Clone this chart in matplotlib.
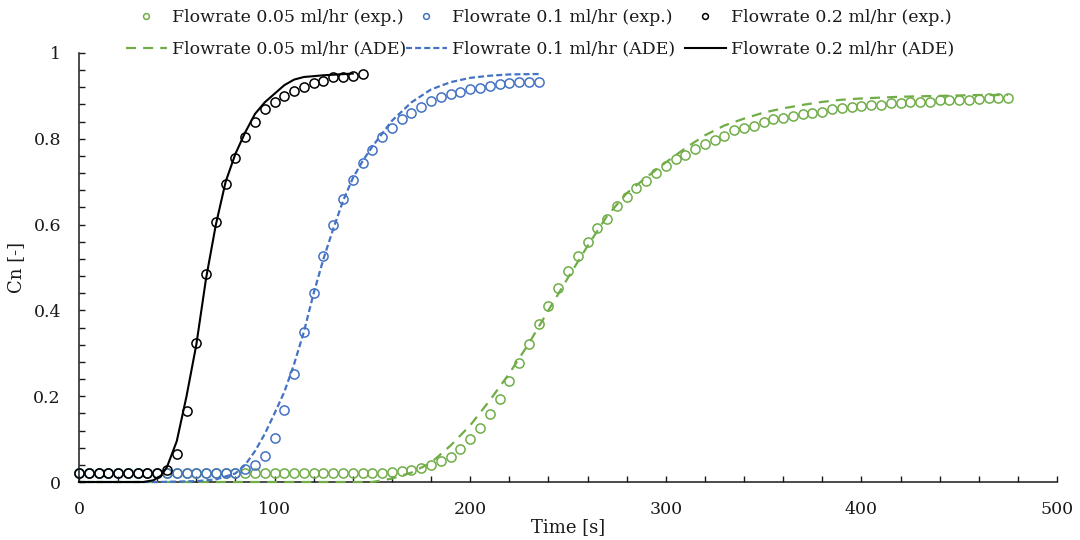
import matplotlib
matplotlib.use("Agg")
import matplotlib.pyplot as plt
from matplotlib.lines import Line2D
from matplotlib.ticker import MultipleLocator, FuncFormatter

plt.rcParams["font.family"] = ["DejaVu Serif"]

# experimental breakthrough data, sampled every 5 s
t_low = list(range(0, 480, 5))
cn_low = [0.022] * 32 + [
    0.024, 0.026, 0.028, 0.033, 0.040, 0.049, 0.059, 0.077, 0.100, 0.125,
    0.158, 0.193, 0.235, 0.277, 0.322, 0.368, 0.410, 0.453, 0.491, 0.527,
    0.560, 0.591, 0.612, 0.644, 0.665, 0.685, 0.702, 0.721, 0.737, 0.752,
    0.762, 0.776, 0.788, 0.797, 0.807, 0.821, 0.824, 0.830, 0.840, 0.845,
    0.849, 0.852, 0.857, 0.859, 0.862, 0.869, 0.871, 0.873, 0.877, 0.879,
    0.879, 0.883, 0.884, 0.886, 0.886, 0.886, 0.890, 0.890, 0.890, 0.890,
    0.892, 0.894, 0.894, 0.894,
]

t_mid = list(range(0, 240, 5))
cn_mid = [0.022] * 17 + [
    0.031, 0.040, 0.061, 0.103, 0.168, 0.251, 0.349, 0.441, 0.527, 0.598,
    0.659, 0.705, 0.743, 0.775, 0.803, 0.826, 0.845, 0.861, 0.875, 0.887,
    0.897, 0.904, 0.910, 0.915, 0.919, 0.923, 0.927, 0.929, 0.932, 0.933,
    0.933,
]

t_high = list(range(0, 150, 5))
cn_high = [0.022] * 9 + [
    0.028, 0.065, 0.166, 0.323, 0.484, 0.605, 0.695, 0.756, 0.803, 0.838,
    0.869, 0.885, 0.900, 0.911, 0.920, 0.929, 0.935, 0.943, 0.945, 0.946,
    0.950,
]

# ADE model curves
ade_t_low = [0, 150, 160, 170, 180, 190, 200, 210, 220, 230, 240, 250, 260, 270,
             280, 290, 300, 310, 320, 330, 340, 350, 360, 370, 380, 390, 400,
             420, 440, 460, 475]
ade_cn_low = [0, 0, 0.008, 0.022, 0.045, 0.085, 0.132, 0.19, 0.253, 0.323, 0.4,
              0.476, 0.55, 0.62, 0.673, 0.71, 0.745, 0.778, 0.808, 0.831, 0.847,
              0.861, 0.871, 0.879, 0.886, 0.891, 0.894, 0.898, 0.9, 0.902, 0.902]

ade_t_mid = [0, 40, 60, 70, 80, 85, 90, 95, 100, 105, 110, 115, 120, 125, 130,
             135, 140, 145, 150, 160, 170, 180, 190, 200, 210, 220, 235]
ade_cn_mid = [0, 0, 0.002, 0.006, 0.02, 0.04, 0.072, 0.112, 0.16, 0.21, 0.275,
              0.35, 0.44, 0.52, 0.59, 0.655, 0.708, 0.748, 0.782, 0.842, 0.885,
              0.915, 0.932, 0.942, 0.947, 0.95, 0.951]

ade_t_high = [0, 33, 38, 42, 45, 50, 55, 60, 65, 70, 75, 80, 85, 90, 95, 100,
              105, 110, 115, 125, 140]
ade_cn_high = [0, 0, 0.004, 0.015, 0.035, 0.095, 0.2, 0.32, 0.475, 0.6, 0.7,
               0.765, 0.815, 0.858, 0.885, 0.905, 0.925, 0.938, 0.944, 0.948,
               0.952]

labels_exp = ["Flowrate 0.05 ml/hr (exp.)", "Flowrate 0.1 ml/hr (exp.)",
              "Flowrate 0.2 ml/hr (exp.)"]
labels_ade = ["Flowrate 0.05 ml/hr (ADE)", "Flowrate 0.1 ml/hr (ADE)",
              "Flowrate 0.2 ml/hr (ADE)"]

green = "#70AD47"
blue = "#4472C4"
black = "#000000"
colors = [green, blue, black]
dash_styles = [(0, (4.5, 3.2)), (0, (2.7, 1.4)), "-"]

fig = plt.figure(figsize=(10.8, 5.4), dpi=100)
ax = fig.add_axes([0.0731, 0.1074, 0.9056, 0.7945])

exp_sets = [(t_low, cn_low), (t_mid, cn_mid), (t_high, cn_high)]
ade_sets = [(ade_t_low, ade_cn_low), (ade_t_mid, ade_cn_mid), (ade_t_high, ade_cn_high)]

for (t, c), col in zip(exp_sets, colors):
    ax.plot(t, c, linestyle="none", marker="o", markersize=6.6,
            markerfacecolor="none", markeredgecolor=col, markeredgewidth=1.1,
            clip_on=False, zorder=3)

for (t, c), col, ls in zip(ade_sets, colors, dash_styles):
    lw = 1.5 if ls == "-" else 1.6
    ax.plot(t, c, color=col, linestyle=ls, linewidth=lw, clip_on=False, zorder=4)

ax.set_xlim(0, 500)
ax.set_ylim(0, 1)
ax.xaxis.set_major_locator(MultipleLocator(100))
ax.xaxis.set_minor_locator(MultipleLocator(20))
ax.yaxis.set_major_locator(MultipleLocator(0.2))
ax.yaxis.set_minor_locator(MultipleLocator(0.04))
ax.yaxis.set_major_formatter(FuncFormatter(lambda v, p: "%g" % round(v, 2)))

for side in ["top", "right"]:
    ax.spines[side].set_visible(False)
for side in ["left", "bottom"]:
    ax.spines[side].set_linewidth(1.1)
    ax.spines[side].set_color("#1a1a1a")

ax.tick_params(which="both", direction="in", length=4.5, width=1.0,
               color="#1a1a1a", labelsize=12.5, labelcolor="#1a1a1a")
ax.tick_params(axis="x", which="both", pad=14)
ax.tick_params(axis="y", which="both", pad=13)

ax.set_xlabel("Time [s]", fontsize=13, color="#1a1a1a", labelpad=0)
ax.set_ylabel("Cn [-]", fontsize=13, color="#1a1a1a", labelpad=6)

# legend: three equally spaced columns above the plot
x_cols = [126 / 1080, 406 / 1080, 685 / 1080]
for lab_e, lab_a, col, ls, x0 in zip(labels_exp, labels_ade, colors, dash_styles, x_cols):
    lw = 1.5 if ls == "-" else 1.6
    h_exp = Line2D([], [], linestyle="none", marker="o", markersize=4.2,
                   markerfacecolor="none", markeredgecolor=col, markeredgewidth=1.1)
    h_ade = Line2D([], [], color=col, linestyle=ls, linewidth=lw)
    fig.legend([h_exp, h_ade], [lab_e, lab_a], loc="upper left",
               bbox_to_anchor=(x0, 1 - 9 / 540), frameon=False,
               fontsize=12.5, handlelength=2.35, handletextpad=0.3,
               borderpad=0, borderaxespad=0, labelspacing=0.85,
               labelcolor="#1a1a1a")

fig.savefig("out.png", dpi=100)
